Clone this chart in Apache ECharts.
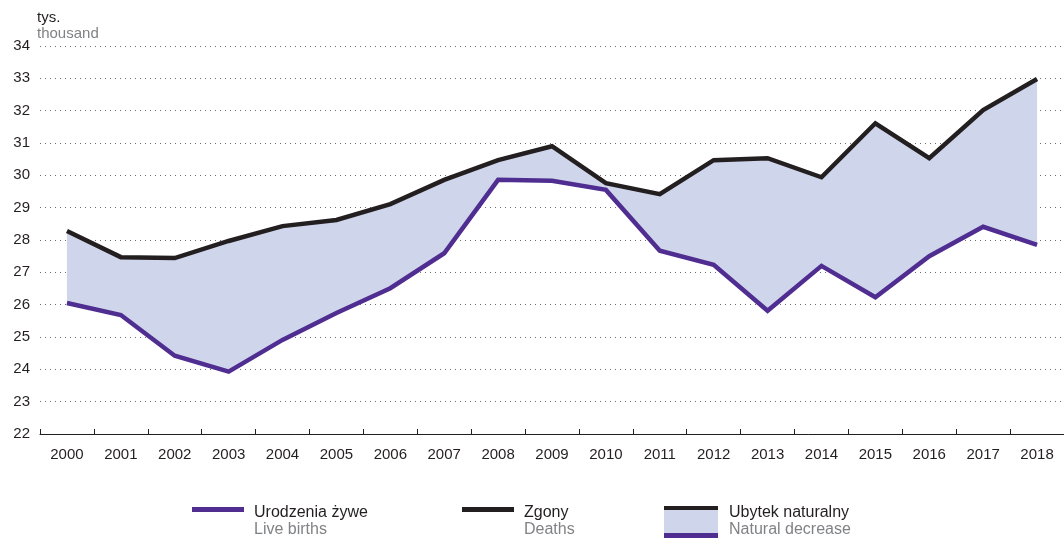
<!DOCTYPE html>
<html>
<head>
<meta charset="utf-8">
<script src="https://cdn.jsdelivr.net/npm/echarts@6/dist/echarts.min.js"></script>
<style>
  html, body { margin: 0; padding: 0; background: #fff; }
  #chart { width: 1064px; height: 538px; }
</style>
</head>
<body>
<div id="chart"></div>
<script>
// dane
var years = ['2000', '2001', '2002', '2003', '2004', '2005', '2006', '2007', '2008', '2009',
  '2010', '2011', '2012', '2013', '2014', '2015', '2016', '2017', '2018'];
var births = [26.05, 25.68, 24.42, 23.93, 24.91, 25.74, 26.51, 27.59, 29.86, 29.83,
  29.55, 27.67, 27.23, 25.81, 27.2, 26.23, 27.5, 28.41, 27.85];
var deaths = [28.28, 27.47, 27.44, 27.97, 28.43, 28.62, 29.11, 29.86, 30.47, 30.9,
  29.76, 29.42, 30.47, 30.53, 29.94, 31.61, 30.53, 32.02, 32.98];

// różnica do wypełnienia (ubytek naturalny)
var gap = deaths.map(function (d, i) { return +(d - births[i]).toFixed(2); });

var purple = '#4f2d91';
var black = '#231f20';
var grey = '#808285';
var fill = '#cfd5ea';

var myChart = echarts.init(document.getElementById('chart'));

var font = 'Liberation Sans, Arial, sans-serif';

var option = {
  animation: false,
  grid: { left: 40, right: 0, top: 46, bottom: 104, containLabel: false },
  xAxis: {
    type: 'category',
    data: years,
    boundaryGap: true,
    axisLine: { show: true, lineStyle: { color: black, width: 1 } },
    axisTick: { show: true, inside: true, length: 5, lineStyle: { color: black } },
    axisLabel: { color: black, fontSize: 15, fontFamily: font, margin: 13 },
    splitLine: { show: false }
  },
  yAxis: {
    type: 'value',
    min: 22,
    max: 34,
    interval: 1,
    axisLine: { show: false },
    axisTick: { show: false },
    axisLabel: { color: black, fontSize: 15, fontFamily: font, margin: 10 },
    splitLine: { show: true, lineStyle: { color: '#6d6e71', width: 1, type: [1, 4] } }
  },
  series: [
    {
      name: 'base',
      type: 'line',
      stack: 'band',
      data: births,
      symbol: 'none',
      lineStyle: { opacity: 0 },
      silent: true,
      z: 1
    },
    {
      name: 'Ubytek naturalny',
      type: 'line',
      stack: 'band',
      data: gap,
      symbol: 'none',
      lineStyle: { opacity: 0 },
      areaStyle: { color: fill, opacity: 1 },
      silent: true,
      z: 1
    },
    {
      name: 'Zgony',
      type: 'line',
      data: deaths,
      symbol: 'none',
      lineStyle: { color: black, width: 4.5, join: 'miter' },
      z: 3
    },
    {
      name: 'Urodzenia żywe',
      type: 'line',
      data: births,
      symbol: 'none',
      lineStyle: { color: purple, width: 4.5, join: 'miter' },
      z: 4
    }
  ],
  graphic: [
    // jednostka osi Y
    { type: 'text', left: 37, top: 10, style: { text: 'tys.', fill: black, font: '15px ' + font } },
    { type: 'text', left: 37, top: 26, style: { text: 'thousand', fill: grey, font: '15px ' + font } },

    // legenda: urodzenia
    { type: 'rect', shape: { x: 192, y: 507, width: 52, height: 5 }, style: { fill: purple } },
    { type: 'text', left: 254, top: 505, style: { text: 'Urodzenia żywe', fill: black, font: '16px ' + font } },
    { type: 'text', left: 254, top: 522, style: { text: 'Live births', fill: grey, font: '16px ' + font } },

    // legenda: zgony
    { type: 'rect', shape: { x: 462, y: 507, width: 52, height: 5 }, style: { fill: black } },
    { type: 'text', left: 524, top: 505, style: { text: 'Zgony', fill: black, font: '16px ' + font } },
    { type: 'text', left: 524, top: 522, style: { text: 'Deaths', fill: grey, font: '16px ' + font } },

    // legenda: ubytek naturalny
    { type: 'rect', shape: { x: 664, y: 506, width: 54, height: 32 }, style: { fill: fill } },
    { type: 'rect', shape: { x: 664, y: 506, width: 54, height: 4 }, style: { fill: black } },
    { type: 'rect', shape: { x: 664, y: 533, width: 54, height: 5 }, style: { fill: purple } },
    { type: 'text', left: 729, top: 505, style: { text: 'Ubytek naturalny', fill: black, font: '16px ' + font } },
    { type: 'text', left: 729, top: 522, style: { text: 'Natural decrease', fill: grey, font: '16px ' + font } }
  ]
};

myChart.setOption(option);
</script>
</body>
</html>
